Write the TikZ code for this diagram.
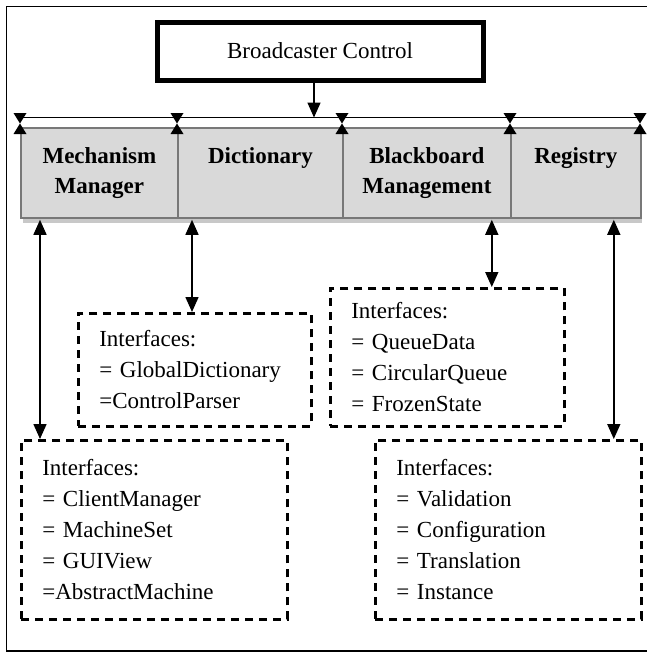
\documentclass[tikz,border=0pt]{standalone}
\usepackage{fontspec}
\setmainfont{Liberation Serif}
\usetikzlibrary{positioning,arrows.meta,calc}
\definecolor{modfill}{RGB}{217,217,217}
\definecolor{modline}{RGB}{120,120,120}
\definecolor{modshade}{RGB}{200,200,200}

\begin{document}
\begin{tikzpicture}[x=1pt,y=-1pt,>={Triangle[length=15pt,width=13pt]},
  modbox/.style={draw=modline,line width=1.8pt,fill=modfill,minimum height=90pt,inner sep=0pt,
    align=center,anchor=north west,font=\bfseries\fontsize{23}{30}\selectfont},
  ifacebox/.style={draw,line width=2.6pt,dash pattern=on 8pt off 6pt,inner xsep=21pt,inner ysep=0pt,
    align=left,anchor=north west,font=\fontsize{23}{31}\selectfont},
  link/.style={<->,line width=1.6pt}]
  \useasboundingbox (0,0) rectangle (647,654);
  \draw[line width=1.5pt] (6.5,6.5) rectangle (660,651);

  % top controller
  \node[draw,line width=5pt,minimum width=326pt,minimum height=58pt,inner sep=0pt,anchor=north west,
    font=\fontsize{23}{27}\selectfont] (bc) at (154.5,19.5) {Broadcaster Control};

  % modules on the bus
  \fill[modshade] (23,217) rectangle (642,223);
  \foreach \name/\x/\w/\txt in {mm/20/157/{Mechanism\\Manager},dict/177/165/{Dictionary\\\phantom{g}},
      bb/342/168/{Blackboard\\Management},reg/510/130/{Registry\\\phantom{g}}}
    \node[modbox,minimum width=\w pt] (\name) at (\x,127) {\txt};

  \coordinate (busL) at (20,117.5);
  \coordinate (busR) at (640,117.5);
  \draw[line width=1.5pt] (busL) -- (busR);
  \coordinate (bcOut) at ($(bc.south)+(-6,0)$);
  \draw[->,line width=1.5pt] (bcOut) -- (bcOut |- busL);
  \foreach \x in {20,177,342,510,640}{
    \fill (\x-6.5,113) -- (\x+6.5,113) -- (\x,123.5) -- cycle;
    \fill (\x-6.5,134) -- (\x+6.5,134) -- (\x,123.5) -- cycle;
  }

  % interface boxes
  \node[ifacebox,text width=191pt,minimum height=113pt] (dictIf) at (77,312)
    {Interfaces:\\= GlobalDictionary\\=ControlParser};
  \node[ifacebox,text width=192pt,minimum height=138pt] (bbIf) at (329,287)
    {Interfaces:\\= QueueData\\= CircularQueue\\= FrozenState};
  \node[ifacebox,text width=224pt,minimum height=179pt] (mmIf) at (20,439)
    {Interfaces:\\= ClientManager\\= MachineSet\\= GUIView\\=AbstractMachine};
  \node[ifacebox,text width=224pt,minimum height=179pt] (regIf) at (374,439)
    {Interfaces:\\= Validation\\= Configuration\\= Translation\\= Instance};

  % module to interface links
  \coordinate (mmA) at ($(mm.south west)+(20,1)$);
  \coordinate (dictA) at ($(dict.south west)+(15,1)$);
  \coordinate (bbA) at ($(bb.south east)+(-20,1)$);
  \coordinate (regA) at ($(reg.south east)+(-28,1)$);
  \draw[link] (mmA) -- (mmA |- mmIf.north);
  \draw[link] (dictA) -- (dictA |- dictIf.north);
  \draw[link] (bbA) -- (bbA |- bbIf.north);
  \draw[link] (regA) -- (regA |- regIf.north);
\end{tikzpicture}
\end{document}
